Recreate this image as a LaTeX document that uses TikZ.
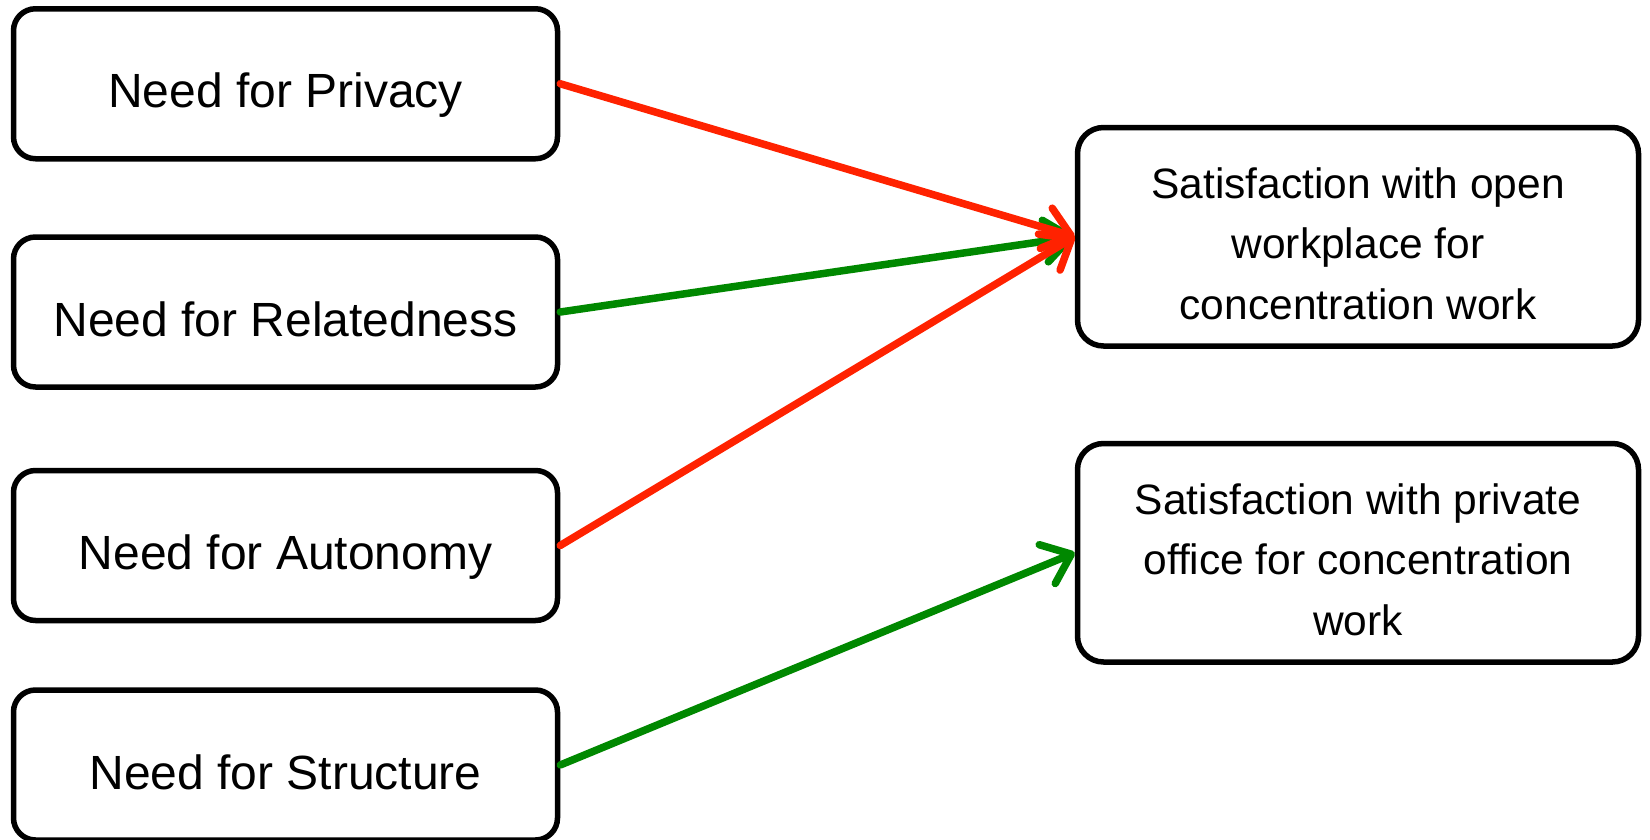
\documentclass[tikz,border=0pt]{standalone}
\usepackage{fontspec}
\setmainfont{Liberation Sans}
\usetikzlibrary{arrows.meta}
\definecolor{negarrow}{RGB}{255,34,0}
\definecolor{posarrow}{RGB}{0,136,0}
\begin{document}
\begin{tikzpicture}[x=1pt,y=-1pt,
  needbox/.style={draw=black, line width=5.5pt, rounded corners=22pt,
    minimum width=544pt, minimum height=150pt, inner sep=0pt,
    font=\fontsize{48}{58}\selectfont, text height=48pt, text depth=0pt},
  satbox/.style={draw=black, line width=5.5pt, rounded corners=26pt,
    minimum width=561pt, minimum height=218.5pt, inner sep=0pt, align=center,
    font=\fontsize{42.5}{60.5}\selectfont},
  linkarrow/.style={line width=7.5pt, line cap=round,
    -{Straight Barb[length=26pt,width=42pt,round]}},
  negarr/.style={linkarrow, draw=negarrow},
  posarr/.style={linkarrow, draw=posarrow}
]
\useasboundingbox (0,0) rectangle (1650,839);
\node[needbox] (priv) at (285.5,83.75) {Need for Privacy};
\node[needbox] (rel) at (285.5,312) {Need for Relatedness};
\node[needbox] (aut) at (285.5,545.5) {Need for Autonomy};
\node[needbox] (str) at (285.5,765) {Need for Structure};
\node[satbox] (open) at (1358,236.75) {\rule{0pt}{44pt}Satisfaction with open\\workplace for\\concentration work};
\node[satbox] (office) at (1358,552.75) {\rule{0pt}{44pt}Satisfaction with private\\office for concentration\\work};
\draw[posarr] (rel.east) -- (open.west);
\draw[negarr] (priv.east) -- (open.west);
\draw[negarr] (aut.east) -- (open.west);
\draw[posarr] (str.east) -- (office.west);
\end{tikzpicture}
\end{document}
